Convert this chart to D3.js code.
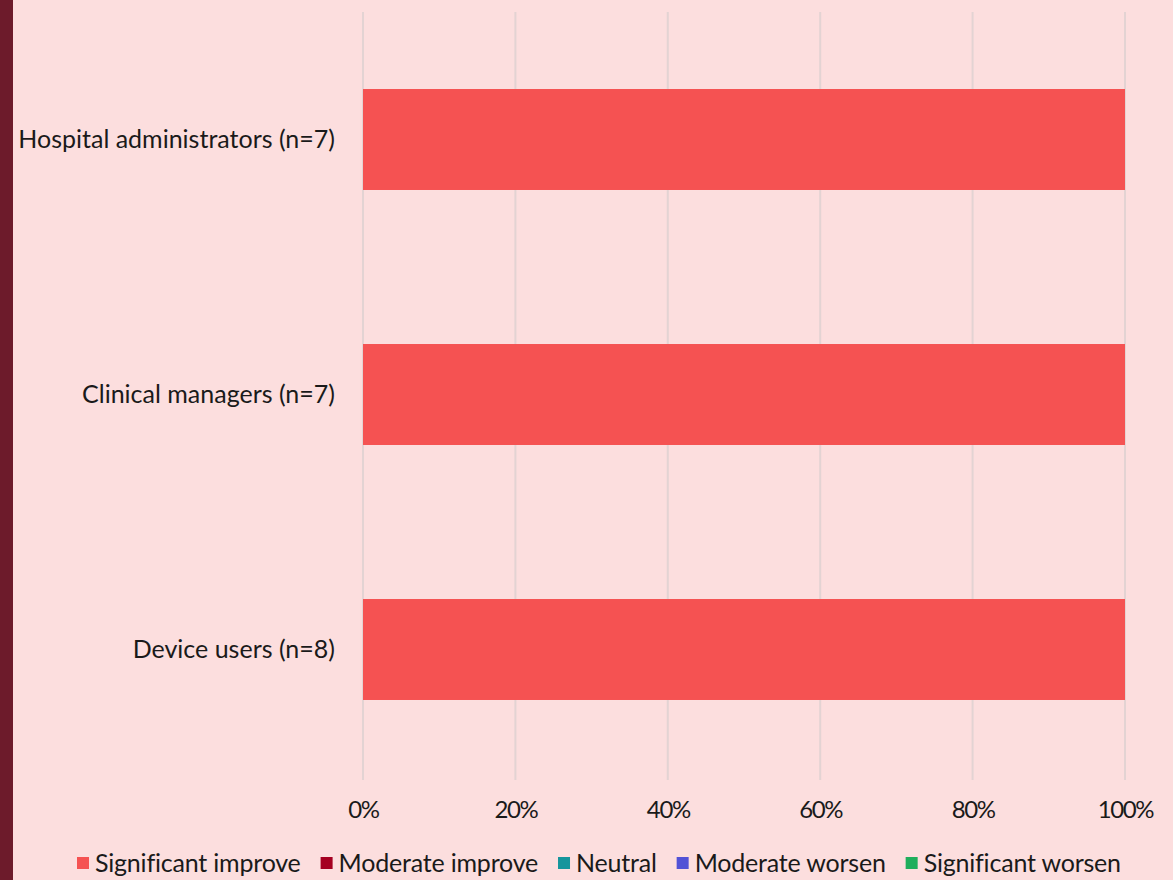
<!DOCTYPE html>
<html>
<head>
<meta charset="utf-8">
<script src="https://cdn.jsdelivr.net/npm/d3@7"></script>
<style>
  html, body { margin: 0; padding: 0; background: #fcdede; }
  svg { display: block; }
  text { font-family: Lato, "Open Sans", sans-serif; fill: #1a1a1a; }
</style>
</head>
<body>
<svg id="chart" width="1173" height="880"></svg>
<script>
// Stacked horizontal bars: share of responses per group
const categories = ["Hospital administrators (n=7)", "Clinical managers (n=7)", "Device users (n=8)"];
const seriesNames = ["Significant improve", "Moderate improve", "Neutral", "Moderate worsen", "Significant worsen"];
const seriesColors = ["#f55252", "#a50021", "#16959c", "#5252d6", "#1fae5c"];
const significantImprove = [1, 1, 1];
const moderateImprove = [0, 0, 0];
const neutral = [0, 0, 0];
const moderateWorsen = [0, 0, 0];
const significantWorsen = [0, 0, 0];
const tickValues = [0, 0.2, 0.4, 0.6, 0.8, 1.0];

const seriesValues = [significantImprove, moderateImprove, neutral, moderateWorsen, significantWorsen];
const rows = categories.map((c, i) => {
  const r = { category: c };
  seriesNames.forEach((s, j) => { r[s] = seriesValues[j][i]; });
  return r;
});

const svg = d3.select("#chart");
const W = 1173, H = 880;

// dark side strip
svg.append("rect").attr("x", 0).attr("y", 0).attr("width", 13).attr("height", H).attr("fill", "#6d1b2b");

const x = d3.scaleLinear().domain([0, 1]).range([363, 1125]);
const y = d3.scaleBand().domain(categories).range([12, 777]).paddingInner(0.604).paddingOuter(0.302);

// vertical gridlines
svg.append("g").selectAll("line").data(tickValues).join("line")
  .attr("x1", d => x(d)).attr("x2", d => x(d))
  .attr("y1", 12).attr("y2", 780)
  .attr("stroke", "#e3d3d3").attr("stroke-width", 2);

const stack = d3.stack().keys(seriesNames)(rows);
const color = d3.scaleOrdinal().domain(seriesNames).range(seriesColors);

svg.append("g").selectAll("g").data(stack).join("g")
  .attr("fill", d => color(d.key))
  .selectAll("rect").data(d => d).join("rect")
  .attr("x", d => x(d[0]))
  .attr("width", d => x(d[1]) - x(d[0]))
  .attr("y", d => y(d.data.category))
  .attr("height", y.bandwidth());

// category labels
const yAxis = d3.axisLeft(y).tickSize(0).tickPadding(0);
const yg = svg.append("g").attr("transform", "translate(335,0)").call(yAxis);
yg.select(".domain").remove();
yg.selectAll("text").style("font-size", "25px").style("letter-spacing", "0px").attr("fill", "#1a1a1a").attr("dy", "0.34em");

// x axis labels
const xAxis = d3.axisBottom(x).tickValues(tickValues).tickFormat(d3.format(".0%")).tickSize(0).tickPadding(0);
const xg = svg.append("g").attr("transform", "translate(0,801)").call(xAxis);
xg.select(".domain").remove();
xg.selectAll("text").style("font-size", "24px").style("letter-spacing", "-1.4px").attr("fill", "#1a1a1a");

// legend
const legendItems = seriesNames.map((s, i) => ({ name: s, color: seriesColors[i] }));
const lg = svg.append("g").attr("transform", "translate(0,863)");
let lx = 77;
legendItems.forEach(item => {
  const g = lg.append("g").attr("transform", `translate(${lx},0)`);
  g.append("rect").attr("x", 0).attr("y", -6).attr("width", 12).attr("height", 12).attr("fill", item.color);
  const t = g.append("text").attr("x", 18).attr("y", 0).attr("dy", "0.35em")
    .style("font-size", "25px").style("letter-spacing", "-0.2px").text(item.name);
  lx += 18 + t.node().getComputedTextLength() + 20;
});
</script>
</body>
</html>
